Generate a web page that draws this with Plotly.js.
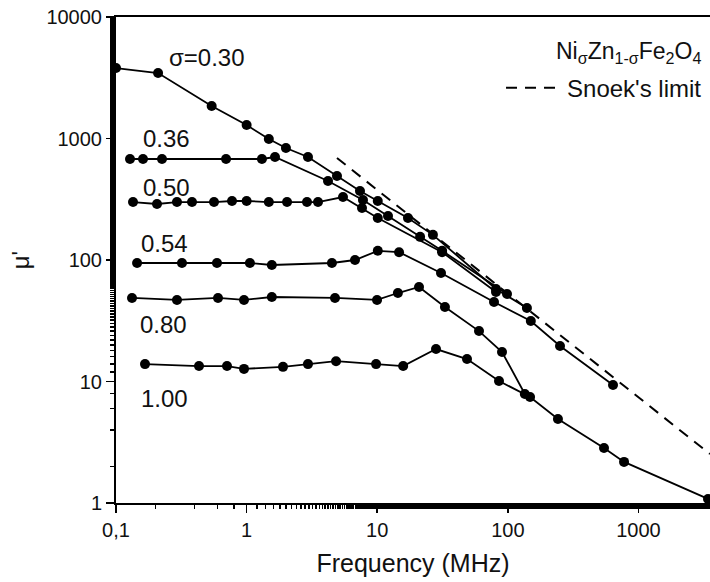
<!DOCTYPE html>
<html>
<head>
<meta charset="utf-8">
<script src="https://cdn.plot.ly/plotly-3.0.1.min.js"></script>
<style>
html,body{margin:0;padding:0;background:#fff;}
#chart{width:710px;height:582px;}
</style>
</head>
<body>
<div id="chart"></div>
<script>
// ---- data (frequency in MHz, permeability mu') ----
const freq030 = [0.1, 0.21, 0.54, 1.0, 1.48, 2.0, 2.95, 4.92, 7.38, 10.1, 17.2, 26.7, 81.2, 140];
const mu030   = [3800, 3460, 1850, 1290, 990, 835, 704, 491, 370, 306, 222, 161, 57.7, 40.3];

const freq036 = [0.128, 0.161, 0.225, 0.696, 1.31, 1.65, 4.2, 7.78, 12.1, 21.3, 31.4, 98.6];
const mu036   = [678, 678, 678, 678, 678, 704, 447, 312, 230, 155, 119, 52.5];

const freq050 = [0.135, 0.206, 0.293, 0.382, 0.563, 0.773, 1.0, 1.48, 2.04, 2.9, 3.52, 5.47, 7.65, 10.1, 31.4, 81.2];
const mu050   = [300, 289, 300, 300, 300, 306, 306, 300, 300, 300, 300, 330, 268, 222, 116, 54.5];

const freq054 = [0.145, 0.32, 0.593, 1.06, 1.56, 4.5, 6.76, 10.1, 14.7, 30.8, 78.4, 150, 251, 639];
const mu054   = [94.5, 94.5, 94.5, 94.5, 91, 94.5, 100, 119, 116, 78.2, 45.1, 31.5, 19.6, 9.36];

const freq080 = [0.1326, 0.293, 0.604, 0.955, 1.56, 4.75, 9.97, 14.4, 20.9, 33.0, 60.2, 90.3, 135];
const mu080   = [48.7, 46.9, 48.7, 46.9, 49.6, 48.7, 46.9, 53.5, 60, 41.0, 26.0, 17.5, 7.89];

const freq100 = [0.1667, 0.432, 0.708, 0.955, 1.90, 2.95, 4.84, 9.8, 15.8, 28.2, 48.7, 85.6, 148, 242, 545, 776, 3410];
const mu100   = [13.9, 13.4, 13.4, 12.7, 13.2, 13.9, 14.7, 13.9, 13.4, 18.5, 15.3, 10.1, 7.45, 4.91, 2.84, 2.18, 1.08];

const freqSnoek = [4.92, 3530];
const muSnoek   = [691, 2.53];

const seriesLabels = ["σ=0.30", "0.36", "0.50", "0.54", "0.80", "1.00"];
const xTickVals = [0.1, 1, 10, 100, 1000];
const xTickText = ["0,1", "1", "10", "100", "1000"];
const yTickVals = [1, 10, 100, 1000, 10000];
const yTickText = ["1", "10", "100", "1000", "10000"];
const formulaText = "Ni<sub>σ</sub>Zn<sub>1-σ</sub>Fe<sub>2</sub>O<sub>4</sub>";
const snoekName = "Snoek's limit";

// ---- traces ----
const FONT = "Liberation Sans, Arial, sans-serif";
const seriesX = [freq030, freq036, freq050, freq054, freq080, freq100];
const seriesY = [mu030, mu036, mu050, mu054, mu080, mu100];
const traces = seriesX.map((xs, i) => ({
  x: xs, y: seriesY[i], type: 'scatter', mode: 'lines+markers',
  line: {color: '#000', width: 1.8},
  marker: {color: '#000', size: 10, symbol: 'circle'},
  showlegend: false, name: seriesLabels[i]
}));
traces.push({
  x: freqSnoek, y: muSnoek, type: 'scatter', mode: 'lines',
  line: {color: '#000', width: 2, dash: '11px,8px'},
  name: snoekName, showlegend: true
});

// label positions (log10 units on log axes)
const labelPos = [[-0.303, 3.663], [-0.617, 2.996], [-0.617, 2.593], [-0.632, 2.132], [-0.640, 1.473], [-0.625, 0.864]];
const annotations = seriesLabels.map((t, i) => ({
  text: t, x: labelPos[i][0], y: labelPos[i][1], xref: 'x', yref: 'y',
  showarrow: false, font: {family: FONT, size: 24, color: '#111'}
}));
annotations.push({
  text: formulaText, xref: 'paper', yref: 'paper', x: 0.988, y: 0.927,
  xanchor: 'right', yanchor: 'middle', showarrow: false,
  font: {family: FONT, size: 23, color: '#111'}
});

const layout = {
  width: 710, height: 582,
  margin: {l: 116, r: 0, t: 17, b: 79},
  paper_bgcolor: '#fff', plot_bgcolor: '#fff',
  font: {family: FONT, color: '#111'},
  showlegend: true,
  legend: {x: 0.995, y: 0.9, xanchor: 'right', yanchor: 'top',
           bgcolor: 'rgba(0,0,0,0)', borderwidth: 0, itemwidth: 56,
           font: {family: FONT, size: 24, color: '#111'}},
  xaxis: {
    type: 'log', range: [-1, 3.548],
    tickvals: xTickVals, ticktext: xTickText,
    ticks: 'outside', ticklen: 8, tickwidth: 1.5, tickcolor: '#000',
    minor: {ticks: 'outside', ticklen: 4, tickwidth: 1.5, tickcolor: '#000', showgrid: false},
    showline: true, linewidth: 2, linecolor: '#000', mirror: true,
    showgrid: false, zeroline: false,
    tickfont: {family: FONT, size: 20, color: '#111'},
    title: {text: 'Frequency (MHz)', font: {family: FONT, size: 25, color: '#111'}, standoff: 14}
  },
  yaxis: {
    type: 'log', range: [0, 4],
    tickvals: yTickVals, ticktext: yTickText,
    ticks: 'outside', ticklen: 8, tickwidth: 1.5, tickcolor: '#000',
    minor: {ticks: 'outside', ticklen: 4, tickwidth: 1.5, tickcolor: '#000', showgrid: false},
    showline: true, linewidth: 2, linecolor: '#000', mirror: false,
    showgrid: false, zeroline: false,
    tickfont: {family: FONT, size: 20, color: '#111'},
    title: {text: "μ'", font: {family: FONT, size: 24, color: '#111'}, standoff: 10}
  },
  annotations: annotations
};

Plotly.newPlot('chart', traces, layout, {displayModeBar: false, staticPlot: true});
</script>
</body>
</html>
